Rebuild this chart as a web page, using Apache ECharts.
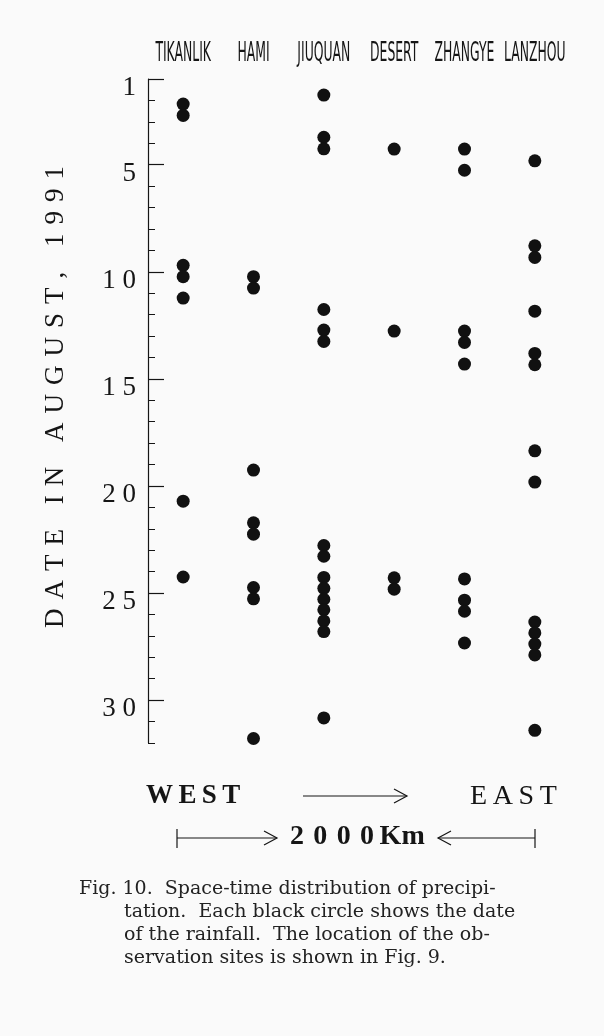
<!DOCTYPE html>
<html><head><meta charset="utf-8">
<script src="https://cdn.jsdelivr.net/npm/echarts@6/dist/echarts.min.js"></script>
<style>html,body{margin:0;padding:0;background:#fafafa}#c{width:604px;height:1036px}</style>
</head><body><div id="c"></div>
<script>
// ---- data (dates in August 1991) ----
const stations = ['TIKANLIK', 'HAMI', 'JIUQUAN', 'DESERT', 'ZHANGYE', 'LANZHOU'];
const tikanlik = [2.17, 2.70, 9.70, 10.23, 11.23, 20.71, 24.25];
const hami     = [10.23, 10.76, 19.26, 21.72, 22.25, 24.74, 25.27, 31.79];
const jiuquan  = [1.75, 3.72, 4.26, 11.76, 12.72, 13.25, 22.78, 23.28, 24.27, 24.78, 25.29, 25.78, 26.30, 26.80, 30.83];
const desert   = [4.27, 12.77, 24.29, 24.82];
const zhangye  = [4.27, 5.26, 12.77, 13.30, 14.31, 24.34, 25.33, 25.85, 27.33];
const lanzhou  = [4.82, 8.79, 9.33, 11.84, 13.81, 14.34, 18.36, 19.82, 26.35, 26.86, 27.38, 27.89, 31.41];
const dateLabels = [1, 5, 10, 15, 20, 25, 30];
const majorTicks = [1, 5, 10, 15, 20, 25, 30];
const minorTicks = [2, 3, 4, 6, 7, 8, 9, 11, 12, 13, 14, 16, 17, 18, 19, 21, 22, 23, 24, 26, 27, 28, 29, 31, 32];
const yTitle = 'DATE IN AUGUST, 1991';
const captionLines = [
  'Fig. 10.  Space-time distribution of precipi-',
  'tation.  Each black circle shows the date',
  'of the rainfall.  The location of the ob-',
  'servation sites is shown in Fig. 9.'
];

const columns = [tikanlik, hami, jiuquan, desert, zhangye, lanzhou];
const points = [];
columns.forEach((arr, i) => arr.forEach(d => points.push([stations[i], d])));

const chart = echarts.init(document.getElementById('c'), null, {renderer: 'canvas'});
const ink = '#151515';
const serif = "'Liberation Serif', 'DejaVu Serif', serif";
const spread = (s, gap) => s.split('').join(gap);

chart.setOption({
  backgroundColor: '#fafafa',
  animation: false,
  grid: {left: 148, right: 34, top: 79, height: 664},
  xAxis: {
    type: 'category', data: stations, position: 'top', boundaryGap: true,
    axisLine: {show: false}, axisTick: {show: false}, splitLine: {show: false},
    axisLabel: {show: false}
  },
  yAxis: [{
    type: 'value', min: 1, max: 32, inverse: true, position: 'left',
    name: spread(yTitle, '\u2004'), nameLocation: 'middle', nameRotate: 90, nameGap: 79,
    nameTextStyle: {fontFamily: serif, fontSize: 27, color: ink, padding: [0, 0, 0, 28]},
    axisLine: {show: true, lineStyle: {color: ink, width: 1.2}},
    axisTick: {show: true, inside: true, length: 16, customValues: majorTicks, lineStyle: {color: ink, width: 1.2}},
    axisLabel: {show: true, customValues: dateLabels, color: ink, fontFamily: serif, fontSize: 27,
      margin: 12, verticalAlign: 'top', lineHeight: 18,
      formatter: v => String(v).split('').join(' ')},
    splitLine: {show: false}
  }, {
    type: 'value', min: 1, max: 32, inverse: true, position: 'left',
    axisLine: {show: false},
    axisTick: {show: true, inside: true, length: 7, customValues: minorTicks, lineStyle: {color: ink, width: 1}},
    axisLabel: {show: false}, splitLine: {show: false}
  }],
  series: [{
    type: 'scatter', xAxisIndex: 0, yAxisIndex: 0, data: points,
    symbol: 'circle', symbolSize: 13, itemStyle: {color: '#111', opacity: 1}
  }]
});

// decorations and texts
const graphics = [
  {type: 'text', left: 146, top: 783, style: {text: spread('WEST', '\u2009'), font: "bold 27px 'Liberation Serif', serif", fill: ink}},
  {type: 'text', left: 470, top: 783, style: {text: spread('EAST', '\u2009'), font: "28px 'Liberation Serif', serif", fill: ink}},
  {type: 'line', shape: {x1: 303, y1: 796, x2: 407, y2: 796}, style: {stroke: ink, lineWidth: 1.2}},
  {type: 'polyline', shape: {points: [[394, 789], [407, 796], [394, 803]]}, style: {stroke: ink, lineWidth: 1.2, fill: null}},
  {type: 'line', shape: {x1: 177, y1: 829, x2: 177, y2: 848}, style: {stroke: ink, lineWidth: 1.2}},
  {type: 'line', shape: {x1: 177, y1: 838, x2: 277, y2: 838}, style: {stroke: ink, lineWidth: 1.2}},
  {type: 'polyline', shape: {points: [[264, 831], [277, 838], [264, 845]]}, style: {stroke: ink, lineWidth: 1.2, fill: null}},
  {type: 'text', left: 290, top: 823, style: {text: '2\u20040\u20040\u20040\u2009Km', font: "bold 28px 'Liberation Serif', serif", fill: ink}},
  {type: 'line', shape: {x1: 438, y1: 838, x2: 535, y2: 838}, style: {stroke: ink, lineWidth: 1.2}},
  {type: 'polyline', shape: {points: [[451, 831], [438, 838], [451, 845]]}, style: {stroke: ink, lineWidth: 1.2, fill: null}},
  {type: 'line', shape: {x1: 535, y1: 829, x2: 535, y2: 848}, style: {stroke: ink, lineWidth: 1.2}}
];
captionLines.forEach((t, i) => {
  graphics.push({type: 'text', left: i === 0 ? 79 : 124, top: 880 + i * 23,
    style: {text: t, font: "19px 'DejaVu Serif', serif", fill: '#222'}});
});
// station names: condensed lettering, placed at the category positions of the x axis
stations.forEach(s => {
  const px = chart.convertToPixel({xAxisIndex: 0}, s);
  graphics.push({type: 'text', x: px, y: 54, scaleX: 0.53,
    style: {text: s, font: "26px 'DejaVu Sans Condensed', 'DejaVu Sans', sans-serif", fill: ink,
      align: 'center', verticalAlign: 'middle'}});
});
chart.setOption({graphic: graphics});
</script></body></html>
